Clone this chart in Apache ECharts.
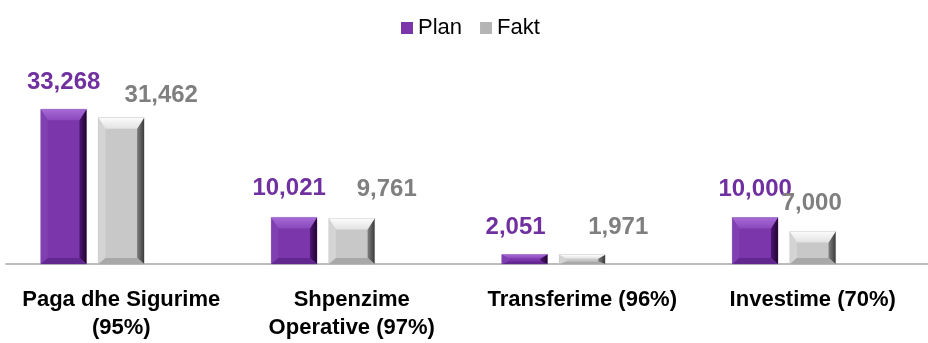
<!DOCTYPE html>
<html>
<head>
<meta charset="utf-8">
<script src="https://cdn.jsdelivr.net/npm/echarts@6/dist/echarts.min.js"></script>
<style>
  html, body { margin: 0; padding: 0; background: #ffffff; }
  #chart { width: 928px; height: 343px; }
</style>
</head>
<body>
<div id="chart"></div>
<script>
// Budget execution by expense group: planned vs. actual
const categories = [
  'Paga dhe Sigurime\n(95%)',
  'Shpenzime\nOperative (97%)',
  'Transferime (96%)',
  'Investime (70%)'
];
const seriesNames = ['Plan', 'Fakt'];
const planValues = [33268, 10021, 2051, 10000];
const faktValues = [31462, 9761, 1971, 7000];

// Hand-placed value labels: horizontal nudge and distance above the bar top (px)
const planLabelShift = [[0, 27], [-5, 29], [-9, 27], [0, 28]];
const faktLabelShift = [[40, 22], [35, 29], [36, 27], [-1, 28]];

const FONT = '"Liberation Sans", Arial, sans-serif';

// Facet colours for the bevelled bars
const skins = {
  Plan: {
    main: '#7a36aa', top: ['#a66bd6', '#8a48bc'], left: '#8140b2',
    right: ['#4e1676', '#22052f'], bottom: '#632890', label: '#7030a0', edge: '#9b7ab8'
  },
  Fakt: {
    main: '#c8c8c8', top: ['#fcfcfc', '#e2e2e2'], left: '#d4d4d4',
    right: ['#808080', '#3c3c3c'], bottom: '#a8a8a8', label: '#7f7f7f', edge: '#b5b5b5'
  }
};

const fmt = v => v.toLocaleString('en-US');

function bevelBar(skin, shiftRatio, shifts) {
  return function (params, api) {
    const idx = api.value(0);
    const val = api.value(1);
    const base = api.coord([idx, 0]);
    const top = api.coord([idx, val]);
    const band = api.size([1, 0])[0];
    const w = band * 0.198;
    const cx = base[0] + band * shiftRatio;
    const x0 = cx - w / 2, x1 = cx + w / 2;
    const y0 = top[1], y1 = base[1];
    const h = y1 - y0;
    const t = Math.min(11, h * 0.42);
    const b = Math.min(6, h * 0.28);
    const s = Math.min(7, w / 2);
    const poly = (pts, fill) => ({ type: 'polygon', shape: { points: pts }, style: { fill: fill } });
    const vgrad = (c0, c1) => new echarts.graphic.LinearGradient(0, 0, 0, 1, [
      { offset: 0, color: c0 }, { offset: 1, color: c1 }]);
    const hgrad = (c0, c1) => new echarts.graphic.LinearGradient(0, 0, 1, 0, [
      { offset: 0, color: c0 }, { offset: 1, color: c1 }]);
    const sh = shifts[params.dataIndex];
    return {
      type: 'group',
      children: [
        { type: 'rect', shape: { x: x0, y: y0, width: w, height: h },
          style: { fill: skin.main, stroke: skin.edge, lineWidth: 0.6 } },
        poly([[x0, y0], [x0 + s, y0 + t], [x0 + s, y1 - b], [x0, y1]], skin.left),
        poly([[x1, y0], [x1, y1], [x1 - s, y1 - b], [x1 - s, y0 + t]], hgrad(skin.right[0], skin.right[1])),
        poly([[x0, y1], [x0 + s, y1 - b], [x1 - s, y1 - b], [x1, y1]], skin.bottom),
        poly([[x0, y0], [x1, y0], [x1 - s, y0 + t], [x0 + s, y0 + t]], vgrad(skin.top[0], skin.top[1])),
        {
          type: 'text',
          x: cx + sh[0],
          y: y0 - sh[1],
          style: {
            text: fmt(val), fill: skin.label, fontSize: 24, fontWeight: 'bold',
            fontFamily: FONT, align: 'center', verticalAlign: 'middle'
          }
        }
      ]
    };
  };
}

const chart = echarts.init(document.getElementById('chart'), null, { renderer: 'canvas' });
chart.setOption({
  animation: false,
  backgroundColor: '#ffffff',
  legend: {
    data: seriesNames,
    left: 396,
    top: 12,
    itemWidth: 12,
    itemHeight: 12,
    itemGap: 18,
    icon: 'rect',
    textStyle: { fontSize: 22, color: '#000000', fontFamily: FONT }
  },
  grid: { left: 6, right: -6, top: 78, bottom: 79 },
  xAxis: {
    type: 'category',
    data: categories,
    axisLine: { lineStyle: { color: '#a6a6a6', width: 1.5 } },
    axisTick: { show: false },
    axisLabel: {
      interval: 0,
      margin: 22,
      lineHeight: 28,
      fontSize: 22,
      fontWeight: 'bold',
      color: '#000000',
      fontFamily: FONT
    }
  },
  yAxis: { type: 'value', min: 0, max: 40000, show: false, splitLine: { show: false } },
  series: [
    {
      name: seriesNames[0],
      type: 'custom',
      itemStyle: { color: skins.Plan.main },
      encode: { x: 0, y: 1 },
      data: planValues.map((v, i) => [i, v]),
      renderItem: bevelBar(skins.Plan, -0.25, planLabelShift)
    },
    {
      name: seriesNames[1],
      type: 'custom',
      itemStyle: { color: '#b4b4b4' },
      encode: { x: 0, y: 1 },
      data: faktValues.map((v, i) => [i, v]),
      renderItem: bevelBar(skins.Fakt, 0, faktLabelShift)
    }
  ]
});
</script>
</body>
</html>
